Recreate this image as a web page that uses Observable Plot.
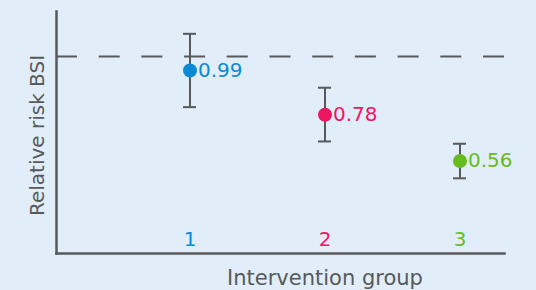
<!DOCTYPE html>
<html>
<head>
<meta charset="utf-8">
<script src="https://cdn.jsdelivr.net/npm/d3@7"></script>
<script src="https://cdn.jsdelivr.net/npm/@observablehq/plot@0.6"></script>
<style>
  html, body { margin: 0; padding: 0; background: #e1edf8; }
  #chart svg { display: block; }
</style>
</head>
<body>
<div id="chart"></div>
<script>
const groups = ["1", "2", "3"];
const relativeRisk = [0.99, 0.78, 0.56];
const ciLow = [0.816, 0.653, 0.478];
const ciHigh = [1.164, 0.908, 0.642];
const valueLabels = ["0.99", "0.78", "0.56"];
const groupColors = ["#0a8ad4", "#ef1660", "#68bb1f"];
const referenceLine = 1.056;
const yTitle = "Relative risk BSI";
const xTitle = "Intervention group";

const data = groups.map((g, i) => ({
  group: g, rr: relativeRisk[i], lo: ciLow[i], hi: ciHigh[i],
  label: valueLabels[i], color: groupColors[i]
}));

const axisColor = "#58595b";
const font = "DejaVu Sans, sans-serif";

const chart = Plot.plot({
  width: 536,
  height: 290,
  marginLeft: 56,
  marginRight: 32,
  marginTop: 11,
  marginBottom: 37,
  style: { background: "#e1edf8", fontFamily: font },
  x: { type: "band", domain: groups, range: [121.5, 526.5], padding: 0, axis: null },
  y: { domain: [0.121, 1.27], axis: null },
  marks: [
    Plot.ruleY([referenceLine], { stroke: axisColor, strokeWidth: 2, strokeDasharray: "21,21.7" }),
    Plot.ruleX(data, { x: "group", y1: "lo", y2: "hi", stroke: axisColor, strokeWidth: 2 }),
    Plot.tickY(data, { x: "group", y: "lo", stroke: axisColor, strokeWidth: 2, insetLeft: 61, insetRight: 61 }),
    Plot.tickY(data, { x: "group", y: "hi", stroke: axisColor, strokeWidth: 2, insetLeft: 61, insetRight: 61 }),
    Plot.dot(data, { x: "group", y: "rr", r: 7, fill: "color", stroke: null }),
    Plot.text(data, { x: "group", y: "rr", text: "label", fill: "color", textAnchor: "start", dx: 8, fontSize: 20, lineAnchor: "middle" }),
    Plot.text(data, { x: "group", y: d => 0.121, text: "group", fill: "color", dy: -14, fontSize: 20, lineAnchor: "middle" }),
    Plot.frame({ anchor: "left", stroke: axisColor, strokeWidth: 2.5 }),
    Plot.frame({ anchor: "bottom", stroke: axisColor, strokeWidth: 2.5 }),
    Plot.text([xTitle], { x: () => groups[1], frameAnchor: "bottom", dy: 25, fontSize: 21, fill: axisColor, lineAnchor: "middle" }),
    Plot.text([yTitle], { frameAnchor: "left", dx: -19, dy: 3, rotate: -90, textAnchor: "middle", fontSize: 20, fill: axisColor, lineAnchor: "middle" })
  ]
});
document.getElementById("chart").appendChild(chart);
</script>
</body>
</html>
